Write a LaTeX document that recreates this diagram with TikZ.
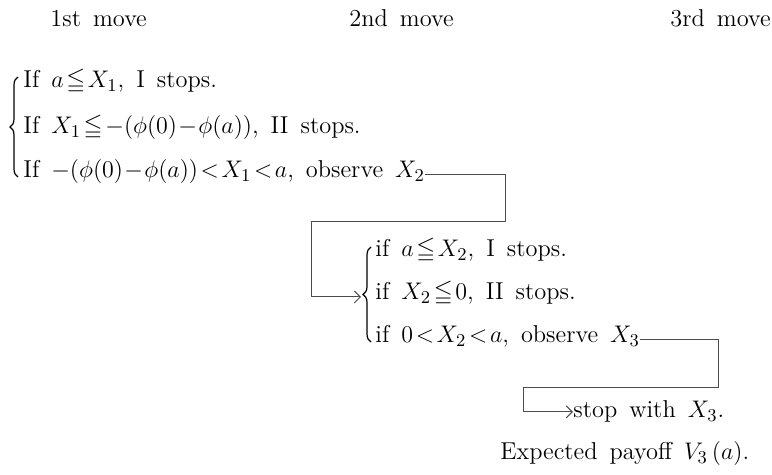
\documentclass[tikz,border=0pt]{standalone}
\usepackage{amsmath,amssymb}
\usetikzlibrary{arrows.meta,positioning,decorations.pathreplacing}
\newcommand{\movefont}{\fontsize{12.2}{14}\selectfont\spaceskip=6pt plus 1pt\relax
  \thickmuskip=2mu\medmuskip=1mu\relax}
\tikzset{
  txt/.style={anchor=base west,inner sep=0pt,font=\movefont},
  link/.style={line width=0.5pt,black!70},
  bigbrace/.style={decorate,decoration={brace,amplitude=4pt},line width=0.6pt},
}

\begin{document}
\begin{tikzpicture}[x=0.5pt,y=0.5pt]
  \useasboundingbox (0,0) rectangle (772,-475);
  % headings
  \node[txt] (mv1) at (50,-27) {1st move};
  \node[txt] (mv2) at (349,-27) {2nd move};
  \node[txt] (mv3) at (670,-27) {3rd move};
  % first move
  \draw[bigbrace] (18,-177) -- (18,-77);
  \node[txt] (a1) at (23,-88) {If $a\leqq X_1$, I stops.};
  \node[txt] (a2) at (23,-134) {If $X_1\leqq-(\phi(0)-\phi(a))$, II stops.};
  \node[txt] (a3) at (23,-178) {If $-(\phi(0)-\phi(a))<X_1<a$, observe $X_2$};
  % second move
  \draw[bigbrace] (371,-342) -- (371,-247);
  \coordinate (br2) at (361,-297);
  \node[txt] (b1) at (375,-257) {if $a\leqq X_2$, I stops.};
  \node[txt] (b2) at (375,-300) {if $X_2\leqq0$, II stops.};
  \node[txt] (b3) at (375,-343) {if $0<X_2<a$, observe $X_3$};
  % third move
  \node[txt] (c1) at (573,-418) {stop with $X_3$.};
  \node[txt] (pay) at (500,-460) {Expected payoff $V_3\,(a)$.};
  % links
  \coordinate (r1) at (505,-222);
  \coordinate (l1) at (311,-222);
  \coordinate (r2) at (718,-388);
  \coordinate (l2) at (523,-388);
  \draw[link] ([yshift=1.5pt]a3.base east) -| (r1) -- (l1);
  \draw[link,-{Straight Barb[length=3pt]}] (l1) |- (br2);
  \draw[link] ([yshift=1.5pt]b3.base east) -| (r2) -- (l2);
  \draw[link,-{Straight Barb[length=3pt]}] (l2) |- (c1.west);
\end{tikzpicture}
\end{document}
